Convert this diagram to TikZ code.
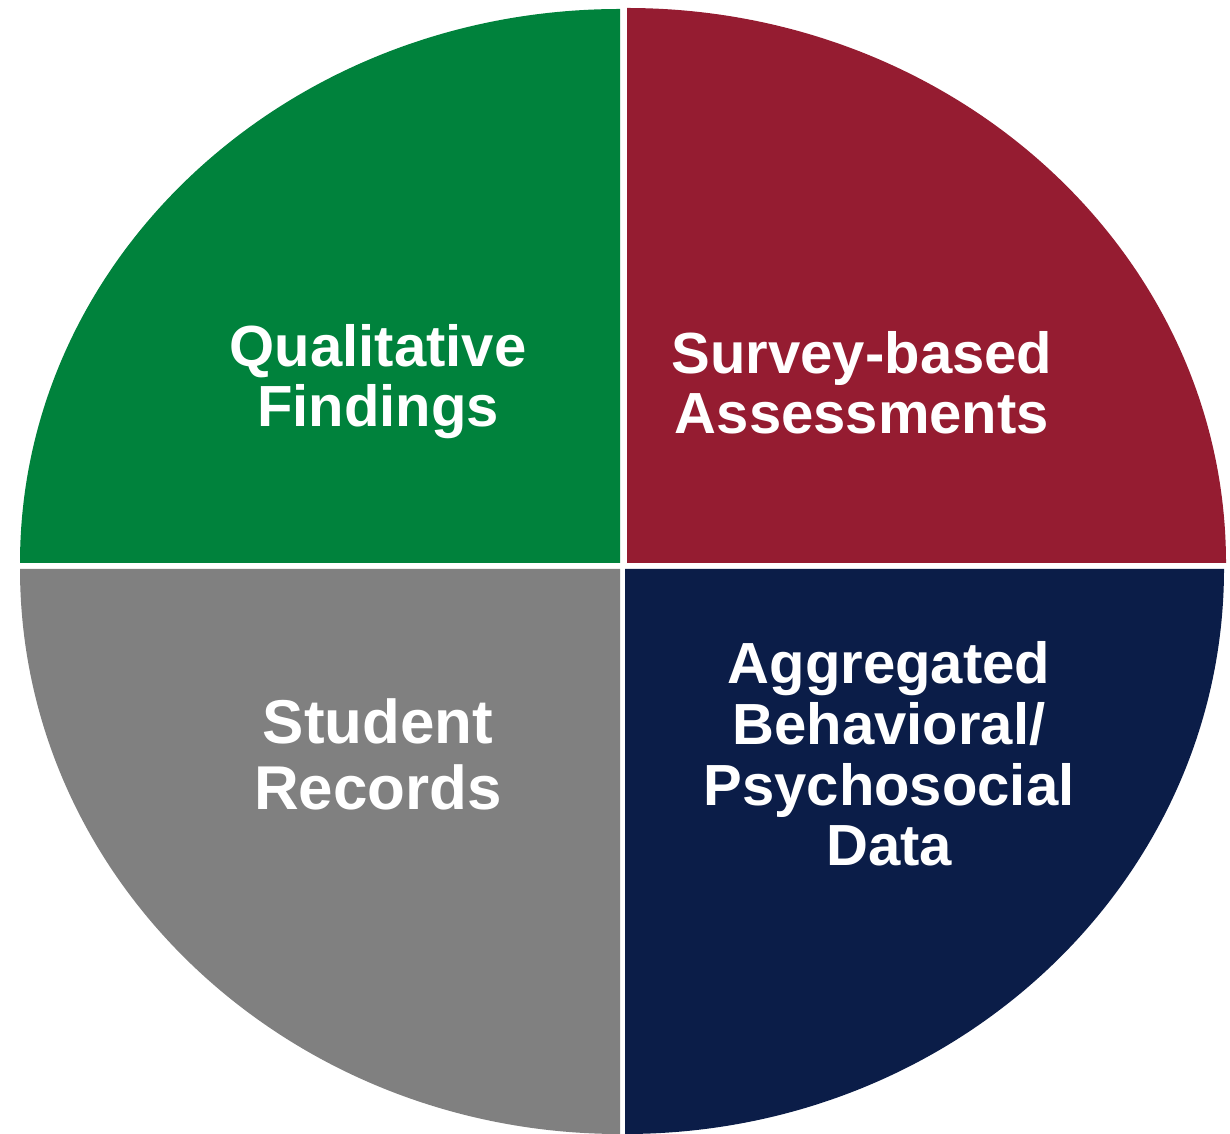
\documentclass[tikz,border=0pt]{standalone}
\usepackage{fontspec}
\setmainfont{Liberation Sans}
\definecolor{qualgreen}{HTML}{00823C}
\definecolor{surveyred}{HTML}{951C31}
\definecolor{recgray}{HTML}{808080}
\definecolor{datanavy}{HTML}{0B1D48}
\begin{document}
\begin{tikzpicture}[x=0.01cm, y=-0.01cm,
  lbl/.style={text=white, align=center, font=\bfseries\fontsize{16.5}{17}\selectfont}]
\useasboundingbox (0,0) rectangle (1230,1134);

\fill [qualgreen] (620,563) -- (20,563) arc[start angle=180, end angle=270, x radius=600, y radius=554] -- cycle;
\fill [surveyred] (627,563) -- (627,8) arc[start angle=270, end angle=360, x radius=599, y radius=555] -- cycle;
\fill [recgray] (620,569) -- (620,1134) arc[start angle=90, end angle=180, x radius=600, y radius=565] -- cycle;
\fill [datanavy] (625,569) -- (1224,569) arc[start angle=0, end angle=90, x radius=599, y radius=565] -- cycle;

\node [lbl] (qual) at (378,382) {Qualitative\\Findings};
\node [lbl] (survey) at (862,383) {Survey-based\\Assessments};
\node [lbl, font=\bfseries\fontsize{17.6}{18.8}\selectfont] (records) at (378,754) {Student\\Records};
\node [lbl, font=\bfseries\fontsize{16.5}{17.3}\selectfont] (aggr) at (889,754) {Aggregated\\Behavioral/\\Psychosocial\\Data};
\end{tikzpicture}
\end{document}
